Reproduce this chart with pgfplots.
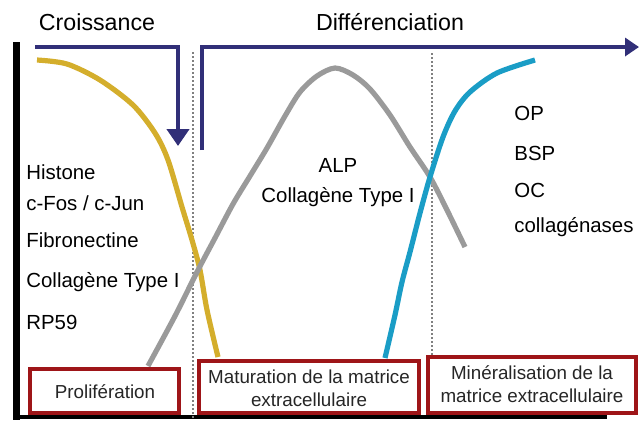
\documentclass[border=0pt]{standalone}
\usepackage{pgfplots}
\pgfplotsset{compat=1.18}
\usepackage{fontspec}
\setmainfont{Liberation Sans}
\usetikzlibrary{arrows.meta}
\definecolor{cyel}{HTML}{D4AE2C}
\definecolor{cgray}{HTML}{9A9A9A}
\definecolor{cblue}{HTML}{1A9DC6}
\definecolor{cnavy}{HTML}{312F78}
\definecolor{cred}{HTML}{9E1518}
\newcommand{\ftitle}{\fontsize{11.6}{13}\selectfont}
\newcommand{\flab}{\fontsize{10.2}{12}\selectfont}
\newcommand{\fbx}{\fontsize{9.4}{11.3}\selectfont}
\begin{document}
\begin{tikzpicture}
\begin{axis}[width=319.5pt, height=210pt, scale only axis,
  xmin=0, xmax=639, ymin=0, ymax=420, y dir=reverse,
  hide axis, clip=false]
% left axis line and bottom line
\addplot[black, line width=3.5pt] coordinates {(16.5,42) (16.5,420)};
\addplot[black, line width=2pt] coordinates {(13,417) (607,417)};
% dotted lines
\addplot[gray, densely dotted, line width=1pt] coordinates {(193,52) (193,420)};
\addplot[gray, densely dotted, line width=1pt] coordinates {(432,53) (432,356)};
% curves
\addplot[cyel, line width=2.6pt, smooth] coordinates {(37,60) (67,64) (100,80) (133,105) (155,133) (168,160) (182,207) (192,240) (200,270) (207,310) (218,357)};
\addplot[cgray, line width=2.6pt, smooth] coordinates {(148,366) (175,316) (197,272) (215,238) (233,204) (250,176) (267,148) (285,116) (300,92) (317,76) (335,68) (353,75) (370,89) (390,115) (410,147) (430,177) (447,210) (465,247)};
\addplot[cblue, line width=2.6pt, smooth] coordinates {(385,358) (395,315) (402,282) (410,252) (420,213) (430,177) (443,137) (455,111) (470,92) (497,73) (535,60)};
% arrows
\addplot[cnavy, line width=2.1pt, -{Triangle[width=11pt,length=8.5pt]}] coordinates {(35,47) (178,47) (178,146)};
\addplot[cnavy, line width=2.1pt, -{Triangle[width=9pt,length=7pt]}] coordinates {(202,150) (202,47) (639,47)};
% titles
\node[font=\ftitle, anchor=base] at (axis cs:97,30) {Croissance};
\node[font=\ftitle, anchor=base] at (axis cs:390,30) {Différenciation};
% left labels
\node[font=\flab, anchor=west, inner sep=0pt] at (axis cs:26,172) {Histone};
\node[font=\flab, anchor=west, inner sep=0pt] at (axis cs:26,203) {c-Fos / c-Jun};
\node[font=\flab, anchor=west, inner sep=0pt] at (axis cs:26,240) {Fibronectine};
\node[font=\flab, anchor=west, inner sep=0pt] at (axis cs:26,282) {Collagène Type I};
\node[font=\flab, anchor=west, inner sep=0pt] at (axis cs:26,322) {RP59};
% middle labels
\node[font=\flab, inner sep=0pt] at (axis cs:338,165) {ALP};
\node[font=\flab, inner sep=0pt] at (axis cs:338,197) {Collagène Type I};
% right labels
\node[font=\flab, anchor=west, inner sep=0pt] at (axis cs:514,113) {OP};
\node[font=\flab, anchor=west, inner sep=0pt] at (axis cs:514,153) {BSP};
\node[font=\flab, anchor=west, inner sep=0pt] at (axis cs:514,190) {OC};
\node[font=\flab, anchor=west, inner sep=0pt] at (axis cs:514,227) {collagénases};
% boxes
\draw[cred, line width=2pt, fill=white] (axis cs:30,369) rectangle (axis cs:179,413);
\node[font=\fbx, text=black!85] at (axis cs:105,392) {Prolifération};
\draw[cred, line width=2pt, fill=white] (axis cs:199,361) rectangle (axis cs:419,413);
\node[font=\fbx, text=black!85, align=center] at (axis cs:309,388) {Maturation de la matrice\\extracellulaire};
\draw[cred, line width=2pt, fill=white] (axis cs:428,357) rectangle (axis cs:636,413);
\node[font=\fbx, text=black!85, align=center] at (axis cs:532,384) {Minéralisation de la\\matrice extracellulaire};
\end{axis}
\pgfresetboundingbox
\path (0,0) rectangle (319.5pt,210pt);
\end{tikzpicture}
\end{document}
